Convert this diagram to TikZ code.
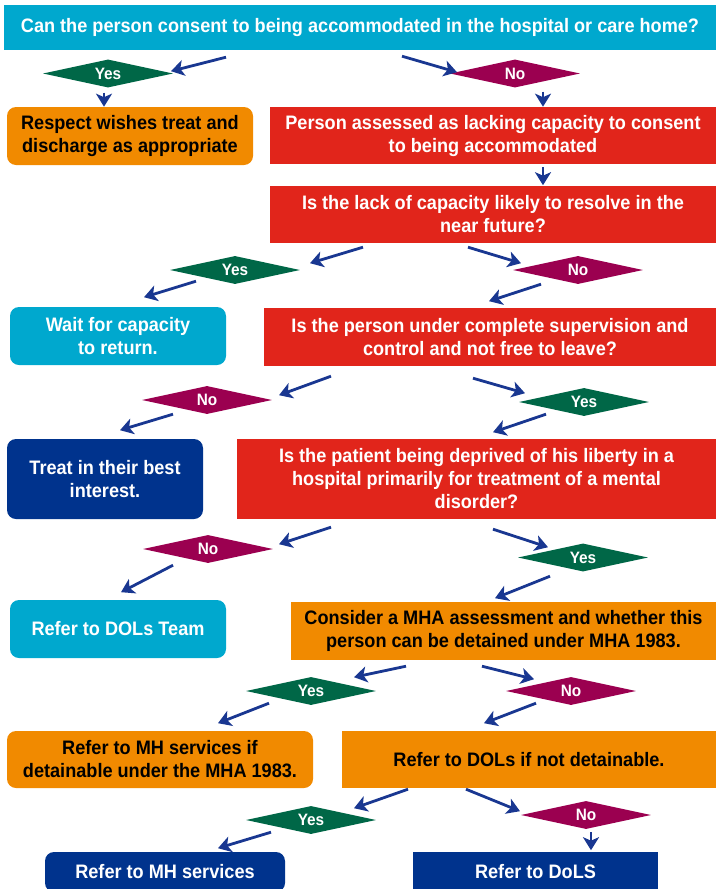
\documentclass[tikz,border=0pt]{standalone}
\usepackage{fontspec}
\setmainfont{Liberation Sans}[FakeStretch=0.93]
\usepackage{tikz}
\usetikzlibrary{positioning}
\usetikzlibrary{shapes.geometric}
\usetikzlibrary{arrows.meta}

\definecolor{dolcyan}{RGB}{0,168,206}
\definecolor{dolred}{RGB}{225,37,27}
\definecolor{dolorange}{RGB}{241,138,0}
\definecolor{dolgreen}{RGB}{0,103,71}
\definecolor{dolplum}{RGB}{155,0,80}
\definecolor{dolnavy}{RGB}{0,51,141}
\definecolor{arrowblue}{RGB}{25,55,145}

\tikzset{
  qbox/.style={rectangle, inner sep=2pt, align=center, text=white,
    font=\bfseries\fontsize{19.5}{23}\selectfont},
  rbox/.style={qbox, rounded corners=9pt},
  yesdia/.style={diamond, aspect=5, inner sep=0pt, fill=dolgreen, text=white,
    minimum width=130pt, minimum height=28pt,
    font=\bfseries\fontsize{16.5}{18}\selectfont},
  nodia/.style={yesdia, fill=dolplum},
  arr/.style={draw=arrowblue, line width=2.8pt,
    -{Stealth[length=13pt,width=16pt,inset=3.5pt]}}
}

\begin{document}
\begin{tikzpicture}[x=1pt,y=-1pt]
\useasboundingbox (0,0) rectangle (716,889);
\clip (0,0) rectangle (716,889);

% questions and outcomes
\node[qbox, fill=dolcyan, minimum width=712pt, minimum height=45pt] (q0) at (360,27.5)
  {Can the person consent to being accommodated in the hospital or care home?};
\node[yesdia] (yes1) at (108,73.5) {Yes};
\node[nodia] (no1) at (515,73.5) {No};
\node[rbox, fill=dolorange, text=black, minimum width=246pt, minimum height=58pt] (respect) at (130,136)
  {Respect wishes treat and\\discharge as appropriate};
\node[qbox, fill=dolred, minimum width=446pt, minimum height=57pt] (assess) at (493,135.5)
  {Person assessed as lacking capacity to consent\\to being accommodated};
\node[qbox, fill=dolred, minimum width=446pt, minimum height=57pt] (lack) at (493,214.5)
  {Is the lack of capacity likely to resolve in the\\near future?};
\node[yesdia] (yes2) at (235,270) {Yes};
\node[nodia] (no2) at (578,270) {No};
\node[rbox, fill=dolcyan, minimum width=216pt, minimum height=58pt] (wait) at (118,336)
  {Wait for capacity\\to return.};
\node[qbox, fill=dolred, minimum width=452pt, minimum height=58pt] (superv) at (490,337)
  {Is the person under complete supervision and\\control and not free to leave?};
\node[nodia] (no3) at (207,400) {No};
\node[yesdia] (yes3) at (584,402) {Yes};
\node[rbox, fill=dolnavy, minimum width=196pt, minimum height=80pt] (treat) at (105,479)
  {Treat in their best\\interest.};
\node[qbox, fill=dolred, minimum width=479pt, minimum height=80pt] (deprived) at (476.5,479)
  {Is the patient being deprived of his liberty in a\\hospital primarily for treatment of a mental\\disorder?};
\node[nodia] (no4) at (208,549) {No};
\node[yesdia] (yes4) at (583,557.5) {Yes};
\node[rbox, fill=dolcyan, minimum width=216pt, minimum height=58pt] (dolsteam) at (118,629)
  {Refer to DOLs Team};
\node[qbox, fill=dolorange, text=black, minimum width=425pt, minimum height=58pt] (mha) at (503.5,631)
  {Consider a MHA assessment and whether this\\person can be detained under MHA 1983.};
\node[yesdia] (yes5) at (311,691) {Yes};
\node[nodia] (no5) at (571,691) {No};
\node[rbox, fill=dolorange, text=black, minimum width=306pt, minimum height=57pt] (mhif) at (160,759.5)
  {Refer to MH services if\\detainable under the MHA 1983.};
\node[qbox, fill=dolorange, text=black, minimum width=374pt, minimum height=57pt] (dolsif) at (529,759.5)
  {Refer to DOLs if not detainable.};
\node[yesdia] (yes6) at (311,820) {Yes};
\node[nodia] (no6) at (586,815) {No};
\node[rbox, fill=dolnavy, minimum width=240pt, minimum height=40pt] (mhserv) at (165,872)
  {Refer to MH services};
\node[qbox, fill=dolnavy, minimum width=245pt, minimum height=40pt] (dols) at (535.5,872)
  {Refer to DoLS};

% arrows
\draw[arr] (q0.south) ++(-134,7) -- ++(-55,14);
\draw[arr] (q0.south) ++(42,6) -- ++(55,16);
\draw[arr] (yes1.south) ++(-4,5) -- ++(0,14);
\draw[arr] (no1.south) ++(28,4) -- ++(0,15);
\draw[arr] (assess.south) ++(50,3) -- ++(0,18);
\draw[arr] (lack.south) ++(-130,4) -- ++(-53,16);
\draw[arr] (lack.south) ++(-25,4) -- ++(53,16);
\draw[arr] (yes2.south) ++(-39,-3) -- ++(-52,16);
\draw[arr] (no2.south) ++(-37,0) -- ++(-52,17);
\draw[arr] (superv.south) ++(-159,10) -- ++(-52,19);
\draw[arr] (superv.south) ++(-17,12) -- ++(52,15);
\draw[arr] (no3.south) ++(-34,0) -- ++(-53,16);
\draw[arr] (yes3.south) ++(-38,-2) -- ++(-53,18);
\draw[arr] (deprived.south) ++(-145.5,8) -- ++(-52,17);
\draw[arr] (deprived.south) ++(16.5,10) -- ++(55,18);
\draw[arr] (no4.south) ++(-35,2) -- ++(-52,27);
\draw[arr] (yes4.south) ++(-33,4.5) -- ++(-55,22);
\draw[arr] (mha.south) ++(-97.5,6) -- ++(-52,11);
\draw[arr] (mha.south) ++(-21.5,6) -- ++(52,13);
\draw[arr] (yes5.south) ++(-42,-2) -- ++(-51,20);
\draw[arr] (no5.south) ++(-35,-2) -- ++(-52,20);
\draw[arr] (dolsif.south) ++(-121,1) -- ++(-54,19);
\draw[arr] (dolsif.south) ++(-63,1) -- ++(54,22);
\draw[arr] (yes6.south) ++(-40,-2) -- ++(-53,16);
\draw[arr] (no6.south) ++(5,3) -- ++(0,18);
\end{tikzpicture}
\end{document}
